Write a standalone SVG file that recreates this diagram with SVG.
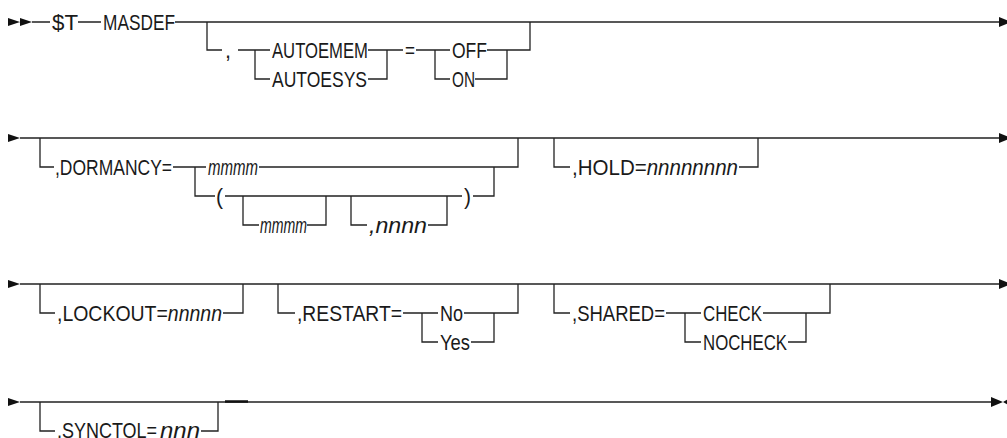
<svg xmlns="http://www.w3.org/2000/svg" width="1007" height="438" viewBox="0 0 1007 438">
<style>
.c{fill:none;stroke:#222;stroke-width:1.3}
.a{fill:#111}
text{font-family:"Liberation Sans",Arial,sans-serif;font-size:22px;fill:#1a1a1a}
.i{font-style:italic}
</style>
<rect width="1007" height="438" fill="#fff"/>
<g id="connectors">
<path class="c" d="M32 22H50M78 22H101M175 22H1001"/>
<path class="c" d="M207 22V50H222M238 50H270M255 50V79H270M368 50H403M368 79H387V50M416 50H450M435 50V79H450M487 50H530V22M475 79H507V50"/>
<path class="c" d="M20 138H1001M40 138V167H54M173 167H206M195 167V196H215M259 167H518V138M225 196H462M243 196V225H259M307 225H326V196M351 196V225H367M428 225H447V196M473 196H494V167M554 138V167H570M739 167H758V138"/>
<path class="c" d="M20 284H1001M40 284V313H55M223 313H243V284M278 284V313H295M403 313H438M422 313V342H438M464 313H518V284M471 342H494V313M554 284V313H570M666 313H701M685 313V342H701M763 313H830V284M788 342H806V313"/>
<path class="c" d="M20 402H991M40 402V431H55M201 431H218V402"/>
<path d="M225 401.5H248" stroke="#111" stroke-width="2.5"/>
<path class="a" d="M8 18L20 22L8 26ZM20 18L32 22L20 26Z"/>
<path class="a" d="M999 17L1011 22L999 27Z"/>
<path class="a" d="M8 134L20 138L8 142Z"/>
<path class="a" d="M999 133L1011 138L999 143Z"/>
<path class="a" d="M8 280L20 284L8 288Z"/>
<path class="a" d="M999 279L1011 284L999 289Z"/>
<path class="a" d="M8 398L20 402L8 406Z"/>
<path class="a" d="M991 397L1003 402L991 407ZM1010 398L1003 402L1010 406Z"/>
</g>
<g id="n-T"><text x="52" y="29.5" textLength="26" lengthAdjust="spacingAndGlyphs">$T</text></g>
<g id="n-MASDEF"><text x="103" y="29.5" textLength="72" lengthAdjust="spacingAndGlyphs">MASDEF</text></g>
<g id="n-comma1"><text x="225" y="57.5" textLength="6" lengthAdjust="spacingAndGlyphs">,</text></g>
<g id="n-AUTOEMEM"><text x="272" y="57.5" textLength="96" lengthAdjust="spacingAndGlyphs">AUTOEMEM</text></g>
<g id="n-AUTOESYS"><text x="272" y="86.5" textLength="95" lengthAdjust="spacingAndGlyphs">AUTOESYS</text></g>
<g id="n-eq"><text x="405" y="57.5" textLength="10" lengthAdjust="spacingAndGlyphs">=</text></g>
<g id="n-OFF"><text x="452" y="57.5" textLength="35" lengthAdjust="spacingAndGlyphs">OFF</text></g>
<g id="n-ON"><text x="452" y="86.5" textLength="23" lengthAdjust="spacingAndGlyphs">ON</text></g>
<g id="n-DORMANCY"><text x="55" y="174.5" textLength="117" lengthAdjust="spacingAndGlyphs">,DORMANCY=</text></g>
<g id="n-mmmm1"><text class="i" x="208" y="174.5" textLength="50" lengthAdjust="spacingAndGlyphs">mmmm</text></g>
<g id="n-lpar"><text x="216" y="203.5" textLength="7" lengthAdjust="spacingAndGlyphs">(</text></g>
<g id="n-mmmm2"><text class="i" x="260" y="232.5" textLength="47" lengthAdjust="spacingAndGlyphs">mmmm</text></g>
<g id="n-nnnn"><text class="i" x="369" y="232.5" textLength="58" lengthAdjust="spacingAndGlyphs">,nnnn</text></g>
<g id="n-rpar"><text x="464" y="203.5" textLength="7" lengthAdjust="spacingAndGlyphs">)</text></g>
<g id="n-HOLD"><text x="572" y="174.5" textLength="166" lengthAdjust="spacingAndGlyphs">,HOLD=<tspan class="i">nnnnnnnn</tspan></text></g>
<g id="n-LOCKOUT"><text x="57" y="320.5" textLength="165" lengthAdjust="spacingAndGlyphs">,LOCKOUT=<tspan class="i">nnnnn</tspan></text></g>
<g id="n-RESTART"><text x="297" y="320.5" textLength="105" lengthAdjust="spacingAndGlyphs">,RESTART=</text></g>
<g id="n-No"><text x="440" y="320.5" textLength="23" lengthAdjust="spacingAndGlyphs">No</text></g>
<g id="n-Yes"><text x="440" y="349.5" textLength="30" lengthAdjust="spacingAndGlyphs">Yes</text></g>
<g id="n-SHARED"><text x="572" y="320.5" textLength="93" lengthAdjust="spacingAndGlyphs">,SHARED=</text></g>
<g id="n-CHECK"><text x="703" y="320.5" textLength="59" lengthAdjust="spacingAndGlyphs">CHECK</text></g>
<g id="n-NOCHECK"><text x="703" y="349.5" textLength="84" lengthAdjust="spacingAndGlyphs">NOCHECK</text></g>
<g id="n-SYNCTOL"><text y="438"><tspan x="57" textLength="100" lengthAdjust="spacingAndGlyphs">,SYNCTOL=</tspan><tspan class="i" x="160" textLength="40" lengthAdjust="spacingAndGlyphs">nnn</tspan></text></g>
</svg>
